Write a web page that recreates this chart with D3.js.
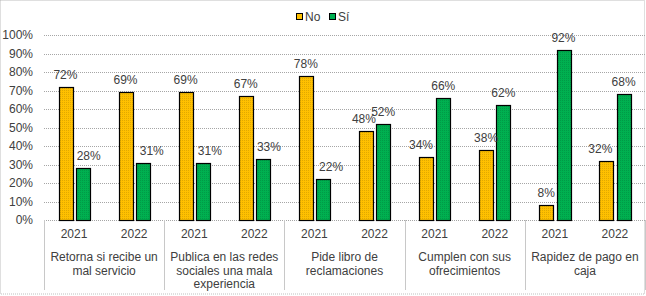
<!DOCTYPE html>
<html><head><meta charset="utf-8">
<script src="https://cdn.jsdelivr.net/npm/d3@7"></script>
<style>body{margin:0;background:#fff}text{font-family:"Liberation Sans",Arial,sans-serif}</style>
</head><body>
<svg id="c" width="646" height="296"></svg>
<script>
const categories = ["Retorna si recibe un\nmal servicio","Publica en las redes\nsociales una mala\nexperiencia","Pide libro de\nreclamaciones","Cumplen con sus\nofrecimientos","Rapidez de pago en\ncaja"];
const years = ["2021","2022"];
const series = ["No","Sí"];
const valuesNo = [[72,69],[69,67],[78,48],[34,38],[8,32]];
const valuesSi = [[28,31],[31,33],[22,52],[66,62],[92,68]];
const yTicks = [0,10,20,30,40,50,60,70,80,90,100];
const colors = {"No":"#FFC000","Sí":"#00B050"};

(function(){
const svg = d3.select("#c");
const W=646,H=296;
const mLeft=44,mRight=645,mTop=35,mBottom=220;
const txt="#404040";
// manual label nudges seen in the original (series|categoryIndex|yearIndex -> dx)
const labelNudge={"Sí|0|0":6,"Sí|0|1":9,"Sí|1|0":7,"Sí|1|1":6,"Sí|2|0":8,"No|2|1":-2,"No|3|0":-5,"No|4|1":-6};

svg.append("rect").attr("x",0.5).attr("y",0.5).attr("width",W-2).attr("height",H-2.5)
  .attr("fill","#fff").attr("stroke","#bfbfbf").attr("stroke-dasharray","1,1");

const defs=svg.append("defs");
Object.entries(colors).forEach(([k,c],i)=>{
  const p=defs.append("pattern").attr("id","p"+i).attr("width",2).attr("height",2).attr("patternUnits","userSpaceOnUse");
  p.append("rect").attr("width",2).attr("height",2).attr("fill",c);
  p.append("rect").attr("width",1).attr("height",1).attr("fill",d3.color(c).darker(0.35));
});
const fillOf = s => "url(#p"+series.indexOf(s)+")";

const y=d3.scaleLinear().domain([0,100]).range([mBottom,mTop]);
const x0=d3.scaleBand().domain(categories).range([mLeft,mRight]);
const x1=d3.scaleBand().domain(years).range([0,x0.bandwidth()]);
const x2=d3.scaleBand().domain(series).range([-15.5,15.5]).paddingInner(0.2);

svg.append("g").selectAll("line").data(yTicks).join("line")
  .attr("x1",mLeft).attr("x2",mRight).attr("y1",d=>Math.round(y(d))+0.5).attr("y2",d=>Math.round(y(d))+0.5)
  .attr("stroke","#a6a6a6").attr("stroke-dasharray","1,1");
const yAxis=d3.axisLeft(y).tickValues(yTicks).tickFormat(d=>d+"%").tickSize(0).tickPadding(11);
const ga=svg.append("g").attr("transform",`translate(${mLeft},0)`).call(yAxis);
ga.select(".domain").remove();
ga.selectAll("text").attr("font-size",12).attr("fill",txt).attr("font-family","Liberation Sans, Arial");

const divs=categories.map(c=>x0(c)).concat([mRight]);
svg.append("g").selectAll("line").data(divs).join("line")
  .attr("x1",d=>Math.round(d)+0.5).attr("x2",d=>Math.round(d)+0.5).attr("y1",mBottom).attr("y2",290)
  .attr("stroke","#c8c8c8");

const rows=[];
categories.forEach((c,ci)=>years.forEach((yr,yi)=>{
  rows.push({c,ci,yr,yi,s:"No",v:valuesNo[ci][yi]});
  rows.push({c,ci,yr,yi,s:"Sí",v:valuesSi[ci][yi]});
}));
const bx=d=>x0(d.c)+x1(d.yr)+x1.bandwidth()/2+x2(d.s);
svg.append("g").selectAll("rect").data(rows).join("rect")
  .attr("x",d=>Math.round(bx(d))+0.5).attr("y",d=>Math.round(y(d.v))+0.5)
  .attr("width",Math.round(x2.bandwidth())).attr("height",d=>Math.round(mBottom)-Math.round(y(d.v)))
  .attr("fill",d=>fillOf(d.s)).attr("stroke","#000").attr("stroke-width",1.2);
svg.append("g").selectAll("text").data(rows).join("text")
  .attr("x",d=>bx(d)+x2.bandwidth()/2+(labelNudge[d.s+"|"+d.ci+"|"+d.yi]||0)).attr("y",d=>y(d.v)-8)
  .attr("text-anchor","middle").attr("font-size",12).attr("fill",txt).text(d=>d.v+"%");

svg.append("g").selectAll("text").data(categories.flatMap(c=>years.map(yr=>({c,yr})))).join("text")
  .attr("x",d=>x0(d.c)+x1(d.yr)+x1.bandwidth()/2).attr("y",237.5)
  .attr("text-anchor","middle").attr("font-size",12).attr("fill",txt).text(d=>d.yr);
categories.forEach(c=>{
  const t=svg.append("text").attr("text-anchor","middle").attr("font-size",12).attr("fill",txt);
  c.split("\n").forEach((ln,i)=>t.append("tspan").attr("x",x0(c)+x0.bandwidth()/2).attr("y",261+i*13.5).text(ln));
});

const lx=[296,329];
series.forEach((s,i)=>{
  svg.append("rect").attr("x",lx[i]+0.5).attr("y",13.5).attr("width",6).attr("height",6)
    .attr("fill",colors[s]).attr("stroke","#000");
  svg.append("text").attr("x",lx[i]+9).attr("y",21).attr("font-size",12).attr("fill",txt).text(s);
});
})();
</script>
</body></html>
